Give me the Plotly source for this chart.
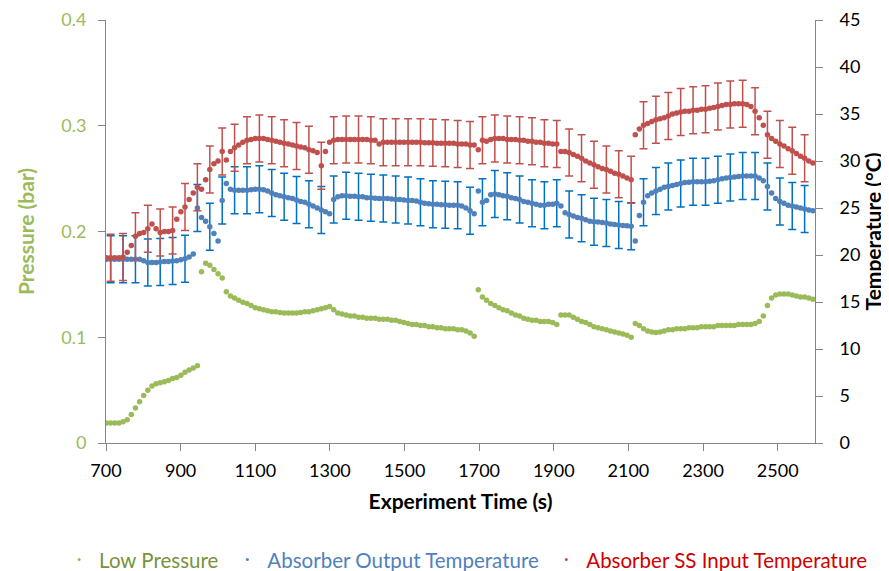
import numpy as np
import plotly.graph_objects as go

# sampling grid of the logged data (s); every third sample carries an error bar
time_s = np.round(701.4 + 11.07 * np.arange(172), 1)

low_pressure = [
    0.019, 0.019, 0.019, 0.019, 0.020, 0.022, 0.027, 0.033, 0.039, 0.045,
    0.050, 0.054, 0.056, 0.057, 0.058, 0.059, 0.061, 0.062, 0.064, 0.067,
    0.069, 0.071, 0.073, 0.162, 0.170, 0.168, 0.164, 0.160, 0.156, 0.143,
    0.139, 0.137, 0.135, 0.133, 0.132, 0.130, 0.128, 0.127, 0.126, 0.125,
    0.124, 0.124, 0.1235, 0.123, 0.123, 0.123, 0.123, 0.1235, 0.124, 0.124,
    0.125, 0.126, 0.127, 0.128, 0.129, 0.126, 0.123, 0.122, 0.121, 0.120,
    0.120, 0.119, 0.119, 0.118, 0.118, 0.118, 0.117, 0.117, 0.117, 0.116,
    0.116, 0.115, 0.114, 0.113, 0.112, 0.112, 0.111, 0.111, 0.110, 0.110,
    0.109, 0.109, 0.108, 0.108, 0.108, 0.107, 0.107, 0.106, 0.104, 0.101,
    0.145, 0.138, 0.135, 0.132, 0.130, 0.128, 0.126, 0.125, 0.123, 0.121,
    0.120, 0.118, 0.117, 0.116, 0.116, 0.115, 0.115, 0.115, 0.114, 0.112,
    0.121, 0.121, 0.121, 0.119, 0.117, 0.115, 0.114, 0.112, 0.110, 0.109,
    0.108, 0.107, 0.106, 0.105, 0.104, 0.103, 0.102, 0.100, 0.113, 0.111,
    0.108, 0.106, 0.105, 0.1045, 0.105, 0.106, 0.107, 0.107, 0.108, 0.108,
    0.108, 0.109, 0.109, 0.109, 0.110, 0.110, 0.110, 0.110, 0.111, 0.111,
    0.111, 0.111, 0.111, 0.112, 0.112, 0.112, 0.112, 0.113, 0.115, 0.120,
    0.130, 0.137, 0.140, 0.141, 0.141, 0.141, 0.140, 0.139, 0.138, 0.138,
    0.137, 0.136,
]

absorber_out_temp = [
    19.55, 19.55, 19.55, 19.55, 19.55, 19.55, 19.55, 19.55, 19.55, 19.4,
    19.2, 19.2, 19.2, 19.25, 19.3, 19.3, 19.35, 19.4, 19.5, 19.6,
    19.8, 20.1, 25.0, 24.0, 23.6, 23.0, 22.3, 21.5, 25.8, 27.6,
    27.0, 26.9, 26.9, 26.9, 26.9, 26.95, 27.0, 27.0, 26.95, 26.8,
    26.6, 26.4, 26.3, 26.2, 26.1, 26.0, 25.85, 25.7, 25.6, 25.4,
    25.2, 25.0, 24.8, 24.6, 24.4, 25.9, 26.2, 26.3, 26.3, 26.25,
    26.25, 26.2, 26.2, 26.1, 26.1, 26.05, 26.0, 26.0, 26.0, 25.95,
    25.9, 25.9, 25.85, 25.8, 25.8, 25.75, 25.6, 25.5, 25.45, 25.4,
    25.4, 25.35, 25.35, 25.3, 25.3, 25.3, 25.2, 25.0, 24.7, 24.4,
    26.8, 25.6, 25.8, 26.4, 26.5, 26.4, 26.3, 26.25, 26.1, 26.0,
    25.9, 25.7, 25.6, 25.5, 25.4, 25.3, 25.3, 25.4, 25.4, 25.5,
    25.2, 24.5, 24.3, 24.15, 24.0, 23.9, 23.75, 23.6, 23.55, 23.5,
    23.45, 23.4, 23.3, 23.25, 23.2, 23.15, 23.1, 23.05, 21.5, 24.2,
    25.6, 26.3, 26.6, 26.8, 27.0, 27.2, 27.3, 27.4, 27.5, 27.6,
    27.7, 27.75, 27.8, 27.8, 27.8, 27.8, 27.85, 27.9, 28.0, 28.1,
    28.2, 28.25, 28.3, 28.35, 28.4, 28.4, 28.4, 28.4, 28.2, 27.9,
    27.3, 26.6, 26.0, 25.7, 25.5, 25.3, 25.2, 25.1, 25.0, 24.9,
    24.8, 24.7,
]

absorber_ss_in_temp = [
    19.7, 19.7, 19.7, 19.7, 19.8, 20.3, 21.0, 22.0, 22.3, 22.4,
    22.8, 23.3, 22.8, 22.4, 22.5, 22.5, 22.6, 23.8, 24.6, 25.1,
    25.9, 26.6, 27.2, 27.0, 28.0, 29.1, 29.7, 30.0, 31.0, 30.1,
    31.0, 31.4, 31.7, 32.0, 32.2, 32.3, 32.4, 32.4, 32.4, 32.3,
    32.2, 32.1, 32.0, 31.9, 31.8, 31.7, 31.6, 31.5, 31.4, 31.2,
    31.1, 30.9, 29.5, 31.0, 32.0, 32.2, 32.3, 32.3, 32.3, 32.3,
    32.3, 32.3, 32.3, 32.3, 32.2, 32.2, 31.8, 32.0, 32.0, 32.0,
    32.0, 32.0, 32.0, 32.0, 32.0, 32.0, 32.0, 31.95, 31.95, 31.95,
    31.9, 31.9, 31.9, 31.9, 31.9, 31.8, 31.8, 31.8, 31.7, 31.7,
    31.2, 32.2, 32.1, 32.3, 32.4, 32.4, 32.4, 32.3, 32.3, 32.3,
    32.2, 32.2, 32.1, 32.1, 32.0, 32.0, 31.9, 31.9, 31.8, 31.8,
    31.0, 31.0, 30.9, 30.7, 30.5, 30.3, 30.0, 29.8, 29.6, 29.4,
    29.2, 29.1, 28.9, 28.7, 28.6, 28.4, 28.2, 28.0, 32.8, 33.4,
    33.8, 34.0, 34.2, 34.4, 34.5, 34.6, 34.8, 35.0, 35.1, 35.2,
    35.3, 35.3, 35.4, 35.4, 35.5, 35.5, 35.6, 35.7, 35.8, 35.9,
    36.0, 36.0, 36.1, 36.1, 36.1, 36.0, 35.8, 35.3, 34.6, 33.8,
    32.8, 32.4, 32.1, 31.8, 31.6, 31.3, 31.1, 30.8, 30.5, 30.3,
    30.0, 29.8,
]

temp_error = 2.5  # +/- degC shown on both temperature series

FONT = "Lato, Carlito, 'Open Sans', sans-serif"
GREEN, BLUE, RED = "#9BBB59", "#4F81BD", "#C0504D"
AXIS_GREY = "#868686"
bars = slice(1, None, 3)  # error bars on every third sample

fig = go.Figure()

fig.add_trace(go.Scatter(
    x=time_s, y=low_pressure, mode="markers", showlegend=False,
    marker=dict(color=GREEN, size=5.5),
))
fig.add_trace(go.Scatter(
    x=time_s[bars], y=absorber_out_temp[bars], mode="markers", yaxis="y2",
    marker=dict(size=1, opacity=0), showlegend=False, hoverinfo="skip",
    error_y=dict(type="constant", value=temp_error, color="#0070C0",
                 thickness=1.5, width=4),
))
fig.add_trace(go.Scatter(
    x=time_s, y=absorber_out_temp, mode="markers", yaxis="y2",
    showlegend=False, marker=dict(color=BLUE, size=5.5),
))
fig.add_trace(go.Scatter(
    x=time_s[bars], y=absorber_ss_in_temp[bars], mode="markers", yaxis="y2",
    marker=dict(size=1, opacity=0), showlegend=False, hoverinfo="skip",
    error_y=dict(type="constant", value=temp_error, color=RED,
                 thickness=1.5, width=4),
))
fig.add_trace(go.Scatter(
    x=time_s, y=absorber_ss_in_temp, mode="markers", yaxis="y2",
    showlegend=False, marker=dict(color=RED, size=5.5),
))

# legend entries: Excel shows a tiny dot next to coloured text;
# one legend box per entry so the row never wraps
for col, txt_col, label, leg in [
    (GREEN, "#77933C", "Low Pressure", "legend"),
    (BLUE, "#4F81BD", "Absorber Output Temperature", "legend2"),
    (RED, "#D00000", "Absorber SS Input Temperature", "legend3"),
]:
    fig.add_trace(go.Scatter(
        x=[None], y=[None], mode="markers", marker=dict(color=col, size=3),
        name=f"<span style='color:{txt_col}'>{label}</span>", legend=leg,
    ))

legend_style = dict(orientation="h", xref="container", yref="container",
                    xanchor="left", y=0.02, yanchor="middle",
                    font=dict(size=20.5), itemsizing="trace", itemwidth=30)

# the page body adds an 8px margin, so the figure is 8px smaller than the window
fig.update_layout(
    width=881, height=563,
    margin=dict(l=98, r=74, t=12, b=128, autoexpand=False),
    paper_bgcolor="white", plot_bgcolor="white",
    font=dict(family=FONT, size=18, color="black"),
    showlegend=True,
    legend=dict(x=0.058, **legend_style),
    legend2=dict(x=0.249, **legend_style),
    legend3=dict(x=0.611, **legend_style),
    xaxis=dict(
        range=[700, 2600], tick0=700, dtick=200, showgrid=False, zeroline=False,
        showline=True, linecolor=AXIS_GREY, ticks="outside", ticklen=7,
        tickcolor=AXIS_GREY, ticklabelstandoff=4, automargin=False,
        title=dict(text="<b>Experiment Time (s)</b>", standoff=14,
                   font=dict(size=21)),
    ),
    yaxis=dict(
        range=[0, 0.4], dtick=0.1, showgrid=False, zeroline=False,
        showline=True, linecolor=AXIS_GREY, ticks="outside", ticklen=7,
        tickcolor=AXIS_GREY, tickfont=dict(color=GREEN), ticklabelstandoff=8,
        automargin=False,
        title=dict(text="<b>Pressure (bar)</b>", standoff=20,
                   font=dict(size=21, color=GREEN)),
    ),
    yaxis2=dict(
        range=[0, 45], dtick=5, overlaying="y", side="right", showgrid=False,
        zeroline=False, showline=True, linecolor=AXIS_GREY, ticks="outside",
        ticklen=7, tickcolor=AXIS_GREY, ticklabelstandoff=13, automargin=False,
        title=dict(text="<b>Temperature (°C)</b>", standoff=6,
                   font=dict(size=21)),
    ),
)

fig.write_html("out.html")
